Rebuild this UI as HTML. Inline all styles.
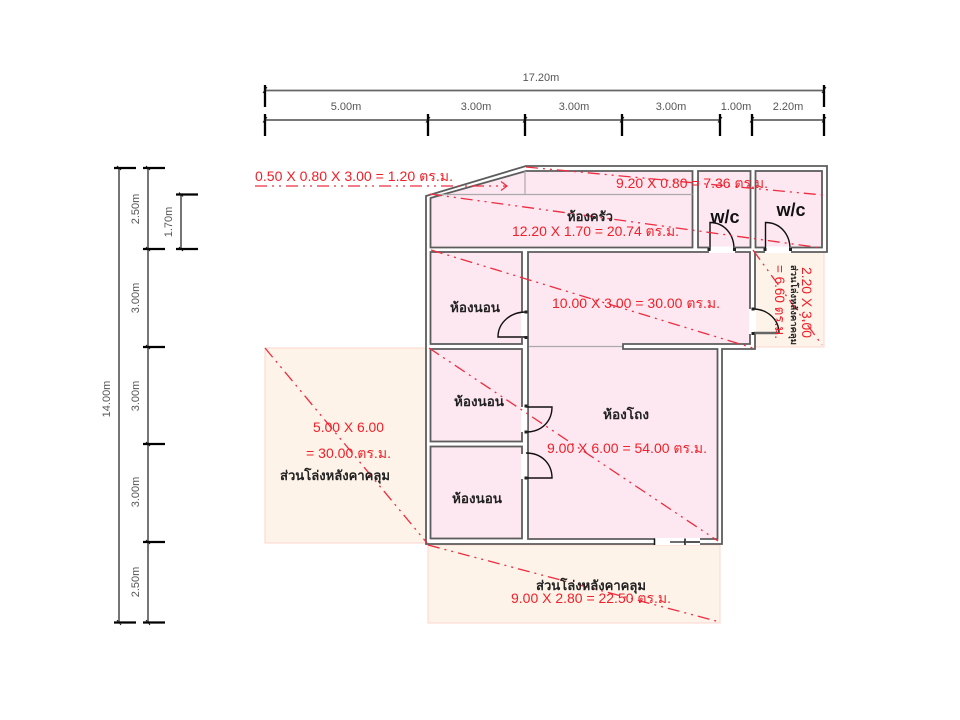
<!DOCTYPE html>
<html><head><meta charset="utf-8"><style>
html,body{margin:0;padding:0;background:#fff}
svg{display:block;filter:blur(0.35px)}
text{font-family:"Liberation Sans",sans-serif}
.d{font-size:11px;fill:#555;text-anchor:middle}
.r{font-size:14px;fill:#f01f28}
.k{font-size:13px;fill:#222;text-anchor:middle;font-weight:bold}
.w{fill:#fde8f1;stroke:#5c5c5c;stroke-width:1.8}
.o{fill:#fef3e9;stroke:#fcdcd4;stroke-width:1.2}
.t{stroke:#000;stroke-width:2.3;fill:none}
.l{stroke:#666;stroke-width:1.8;fill:none}
.e{stroke:#ee2c40;stroke-width:1.3;fill:none;stroke-dasharray:12 5 2 5 2 5}
.a{stroke:#111;stroke-width:1.400;fill:none}
.s{stroke:#111;stroke-width:1;fill:none}
</style></head><body>
<svg width="960" height="720" viewBox="0 0 960 720" xmlns="http://www.w3.org/2000/svg">
<rect width="960" height="720" fill="#fff"/>
<rect class="o" x="265" y="348" width="163" height="195"/>
<rect class="o" x="428" y="545" width="292" height="78"/>
<rect class="o" x="755" y="252" width="69" height="95"/>
<path d="M426 196L526 166H827V252H755V349H722V544H426Z" fill="#fff" stroke="#5c5c5c" stroke-width="1.8"/>
<path class="w" d="M430.500 198L526 171H692.500V247.500H430.500Z"/>
<rect class="w" x="698" y="171" width="52.500" height="76.500"/>
<rect class="w" x="755.500" y="171" width="66.500" height="76.500"/>
<rect class="w" x="430.500" y="252" width="91.500" height="92"/>
<rect class="w" x="430.500" y="349" width="91.500" height="92.500"/>
<rect class="w" x="430.500" y="446.500" width="91.500" height="92"/>
<path class="w" d="M528 252H750V344H623V349H717.500V539H528Z"/>
<path d="M529 346.500H622M430.500 194.500H692.500M525 171V194.500" stroke="#aaa" stroke-width="1.200" fill="none"/>
<rect x="521" y="313" width="6.200" height="25" fill="#fff"/>
<rect x="521" y="407" width="6.200" height="25" fill="#fff"/>
<rect x="521" y="454" width="6.200" height="25" fill="#fff"/>
<rect x="709" y="246.500" width="26" height="6.500" fill="#fff"/>
<rect x="765" y="246.500" width="26" height="6.500" fill="#fff"/>
<rect x="749" y="309" width="7" height="25" fill="#fff"/>
<rect x="655" y="538" width="45" height="7" fill="#fff"/>
<path class="a" d="M526 312C510 312 498 323 498 337H526"/>
<path class="a" d="M526 407H552C552 421 542 432 526 432"/>
<path class="a" d="M526 453C542 453 552 464 552 478H526"/>
<path class="a" d="M710 250V222.500C724 222.500 734 234 734 249"/>
<path class="a" d="M765.500 250V222.500C780 222.500 790 234 790 249"/>
<path class="a" d="M753 309C768 309 779 320 779 333"/>
<path d="M754 333H778" stroke="#666" stroke-width="2.500"/>
<path d="M654.500 538.500V545M685 538.500V545" stroke="#111" stroke-width="1.500"/>
<path d="M670 542H685" stroke="#111" stroke-width="1.200"/><path d="M685 542H700" stroke="#555" stroke-width="2"/>
<g fill="#222"><rect x="524.500" y="310.500" width="3" height="3"/><rect x="524.500" y="336" width="3" height="3"/><rect x="524.500" y="404.500" width="3" height="3"/><rect x="524.500" y="430.500" width="3" height="3"/><rect x="524.500" y="476.500" width="3" height="3"/><rect x="707.500" y="248" width="3" height="3"/><rect x="733" y="248" width="3" height="3"/><rect x="763.500" y="248" width="3" height="3"/><rect x="789" y="248" width="3" height="3"/><rect x="751.500" y="307.500" width="3" height="3"/><rect x="751.500" y="332" width="3" height="3"/></g>

<path class="e" d="M255 186H507"/><path d="M501 181.500L507 186L501 190.500" stroke="#ee2c40" stroke-width="1.200" fill="none"/>
<path class="e" d="M430 194L822 248"/>
<path class="e" d="M526 167L823 195"/>
<path class="e" d="M431 250L753 348"/>
<path class="e" d="M429 348L718 541"/>
<path class="e" d="M265 348L427 543"/>
<path class="e" d="M428 545L720 622"/>
<path class="e" d="M753 250L822 345"/>

<g class="l">
<path d="M265 90.500H824M265 120H525M525 120H720M752 120H824"/>
<path d="M119 168V622M148 168V622M181 195V249"/>
</g>
<g class="t">
<path d="M265 85V107M824 85V107M265 114V136M428 114V136M525 114V136M622 114V136M720 114V136M752 114V136M824 114V136"/>
<path d="M114 168H136M114 622.500H136M143 168H165M143 249H165M143 347H165M143 444H165M143 542H165M143 622.500H165M176 194.500H198M176 249H198"/>
</g>
<g class="s">
<path d="M263 93L267 87M822 93L826 87M263 122.500L267 117M426 122.500L430 117M523 122.500L527 117M620 122.500L624 117M718 122.500L722 117M750 122.500L754 117M822 122.500L826 117"/>
<path d="M117 166L121 170M117 620L121 625M146 166L150 170M146 247L150 251M146 345L150 349M146 442L150 446M146 540L150 544M146 620L150 625M179 192.500L183 196.500M179 247L183 251"/>
</g>
<g class="d">
<text x="541" y="81">17.20m</text>
<text x="346" y="110">5.00m</text><text x="476" y="110">3.00m</text><text x="574" y="110">3.00m</text><text x="671" y="110">3.00m</text><text x="736" y="110">1.00m</text><text x="788" y="110">2.20m</text>
<text transform="translate(110,399) rotate(-90)">14.00m</text>
<text transform="translate(139,209) rotate(-90)">2.50m</text>
<text transform="translate(139,298) rotate(-90)">3.00m</text>
<text transform="translate(139,396) rotate(-90)">3.00m</text>
<text transform="translate(139,492) rotate(-90)">3.00m</text>
<text transform="translate(139,582) rotate(-90)">2.50m</text>
<text transform="translate(172,222) rotate(-90)">1.70m</text>
</g>
<g class="r">
<text x="255" y="181" textLength="198" lengthAdjust="spacingAndGlyphs">0.50 X 0.80 X 3.00 = 1.20 ตร.ม.</text>
<text x="616" y="188" textLength="152" lengthAdjust="spacingAndGlyphs">9.20 X 0.80 = 7.36 ตร.ม.</text>
<text x="512" y="236" textLength="167" lengthAdjust="spacingAndGlyphs">12.20 X 1.70 = 20.74 ตร.ม.</text>
<text x="552" y="308" textLength="168" lengthAdjust="spacingAndGlyphs">10.00 X 3.00 = 30.00 ตร.ม.</text>
<text x="547" y="453" textLength="160" lengthAdjust="spacingAndGlyphs">9.00 X 6.00 = 54.00 ตร.ม.</text>
<text x="313" y="432" textLength="71" lengthAdjust="spacingAndGlyphs">5.00 X 6.00</text>
<text x="306" y="458" textLength="85" lengthAdjust="spacingAndGlyphs">= 30.00 ตร.ม.</text>
<text x="511" y="603" textLength="160" lengthAdjust="spacingAndGlyphs">9.00 X 2.80 = 22.50 ตร.ม.</text>
<text transform="translate(802,267) rotate(90)" textLength="71" lengthAdjust="spacingAndGlyphs">2.20 X 3.00</text>
<text transform="translate(775,265) rotate(90)" textLength="74" lengthAdjust="spacingAndGlyphs">= 6.60 ตร.ม.</text>
</g>
<g class="k">
<text x="590" y="221" textLength="46" lengthAdjust="spacingAndGlyphs">ห้องครัว</text>
<text x="475" y="312" textLength="50" lengthAdjust="spacingAndGlyphs">ห้องนอน</text>
<text x="479" y="406" textLength="50" lengthAdjust="spacingAndGlyphs">ห้องนอน</text>
<text x="477" y="503" textLength="50" lengthAdjust="spacingAndGlyphs">ห้องนอน</text>
<text x="626" y="419" textLength="46" lengthAdjust="spacingAndGlyphs">ห้องโถง</text>
<text x="335" y="480" textLength="110" lengthAdjust="spacingAndGlyphs">ส่วนโล่งหลังคาคลุม</text>
<text x="591" y="590" textLength="110" lengthAdjust="spacingAndGlyphs">ส่วนโล่งหลังคาคลุม</text>
<text transform="translate(791,305) rotate(90)" style="font-size:9px" textLength="80" lengthAdjust="spacingAndGlyphs">ส่วนโล่งหลังคาคลุม</text>
<text x="725" y="223" style="font-size:18px;fill:#111">w/c</text>
<text x="791" y="216" style="font-size:18px;fill:#111">w/c</text>
</g>
</svg>
</body></html>
